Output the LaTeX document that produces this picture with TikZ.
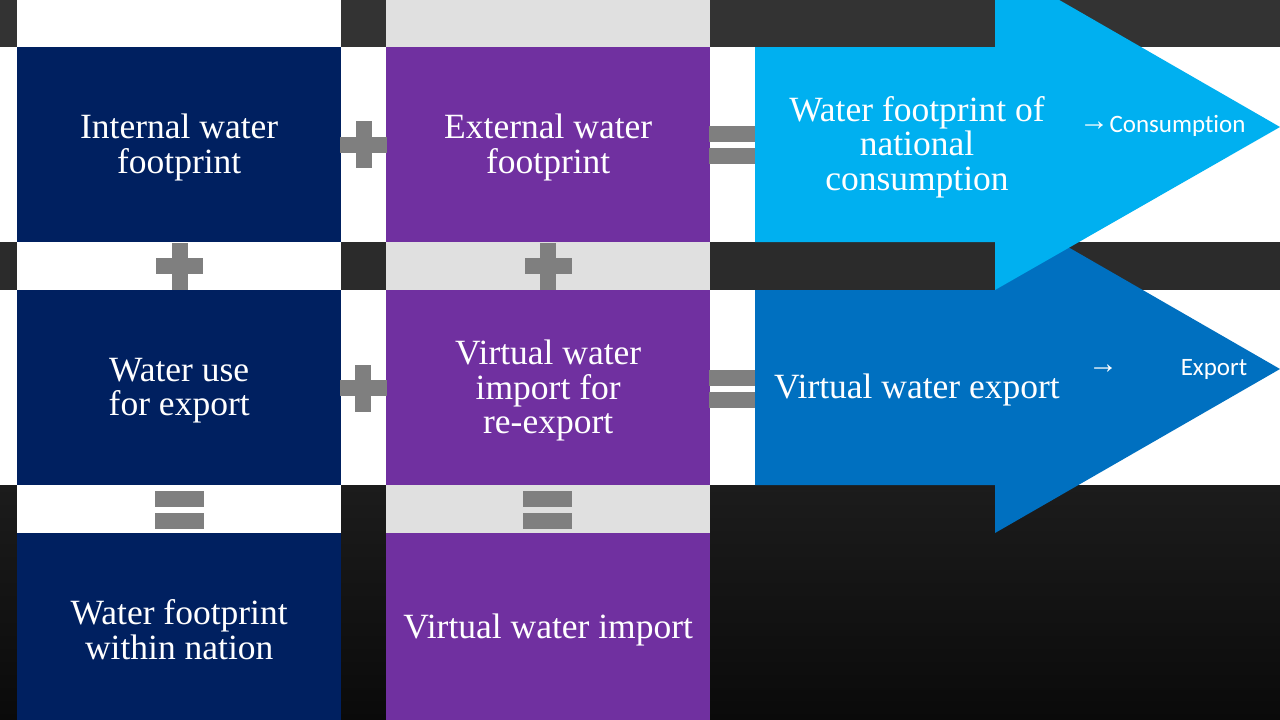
\documentclass[tikz,border=0pt]{standalone}
\usepackage{fontspec}
\setmainfont{Liberation Serif}
\newfontfamily\sansf[Ligatures=NoCommon]{Carlito}
\newfontfamily\arrf{Liberation Sans}
\definecolor{navy}{HTML}{002060}
\definecolor{purp}{HTML}{7030A0}
\definecolor{lblue}{HTML}{00B0F0}
\definecolor{dblue}{HTML}{0070C0}
\definecolor{opgray}{HTML}{7F7F7F}
\definecolor{cellgray}{HTML}{E0E0E0}
\definecolor{stripeA}{HTML}{333333}
\definecolor{stripeB}{HTML}{2B2B2B}
\definecolor{stripeC}{HTML}{1C1C1C}
\definecolor{stripeD}{HTML}{0A0A0A}
\tikzset{
  boxtext/.style={text=white, align=center, inner sep=0pt,
    font=\fontsize{35.5}{34.5}\selectfont},
  intext/.style={boxtext, yshift=-3pt},
  cellbox/.style={anchor=north west, inner sep=0pt, minimum width=324pt, minimum height=195pt},
  navybox/.style={cellbox, fill=navy},
  purpbox/.style={cellbox, fill=purp},
  sanslbl/.style={text=white, inner sep=0pt, font=\sansf\fontsize{25}{25}\selectfont},
  arrlbl/.style={text=white, inner sep=0pt, font=\arrf\fontsize{30}{30}\selectfont},
  plussign/.pic={
    \fill[opgray] (-23.5,-8) rectangle (23.5,8);
    \fill[opgray] (-8,-23.5) rectangle (8,23.5);
  },
  eqsign/.pic={
    \fill[opgray] (-23,-19) rectangle (23,-3);
    \fill[opgray] (-23,3) rectangle (23,19);
  },
  eqsignw/.pic={
    \fill[opgray] (-24.5,-19) rectangle (24.5,-3);
    \fill[opgray] (-24.5,3) rectangle (24.5,19);
  }
}
\begin{document}
\begin{tikzpicture}[x=1pt,y=-1pt]
\useasboundingbox (0,0) rectangle (1280,720);
\clip (0,0) rectangle (1280,720);
% background bands
\fill[stripeA] (0,0) rectangle (1280,47);
\fill[white] (0,47) rectangle (1280,242);
\fill[stripeB] (0,242) rectangle (1280,290);
\fill[white] (0,290) rectangle (1280,485);
\shade[top color=stripeC, bottom color=stripeD] (0,485) rectangle (1280,720);
% spacer cells in the stripes
\fill[white] (17,0) rectangle (341,47);
\fill[white] (17,242) rectangle (341,290);
\fill[white] (17,485) rectangle (341,533);
\fill[cellgray] (386,0) rectangle (710,47);
\fill[cellgray] (386,242) rectangle (710,290);
\fill[cellgray] (386,485) rectangle (710,533);
% arrows
\fill[dblue] (755,290) -- (995,290) -- (995,205) -- (1280,369) -- (995,533)
  -- (995,485) -- (755,485) -- cycle;
\fill[lblue] (755,47) -- (995,47) -- (995,-37) -- (1280,127) -- (995,290)
  -- (995,242) -- (755,242) -- cycle;
% boxes
\node[navybox] (iwf) at (17,47) {};
\node[purpbox] (ewf) at (386,47) {};
\node[navybox] (wue) at (17,290) {};
\node[purpbox] (vwir) at (386,290) {};
\node[navybox, minimum height=187pt] (wfwn) at (17,533) {};
\node[purpbox, minimum height=187pt] (vwi) at (386,533) {};
\node[intext] (iwft) at (iwf.center) {Internal water\\footprint};
\node[intext] (ewft) at (ewf.center) {External water\\footprint};
\node[intext] (wuet) at (wue.center) {Water use\\for export};
\node[intext] (vwirt) at (vwir.center) {Virtual water\\import for\\re-export};
\node[intext] (wfwnt) at (wfwn.center) {Water footprint\\within nation};
\node[intext] (vwit) at (vwi.center) {Virtual water import};
% arrow texts
\node[intext] (wfnc) at (917,144) {Water footprint of\\national\\consumption};
\node[intext] (vwe) at (917,387) {Virtual water export};
\node[arrlbl] (arr1) at (1094,126) {→};
\node[sanslbl] (cons) at (1177.5,126) {Consumption};
\node[arrlbl] (arr2) at (1103,369) {→};
\node[sanslbl] (exp) at (1214,369) {Export};
% operators
\pic at (363.5,144.5) {plussign};
\pic at (363,388) {plussign};
\pic at (179.5,266) {plussign};
\pic at (548,266) {plussign};
\pic at (732,145) {eqsign};
\pic at (732,389) {eqsign};
\pic at (179.5,510) {eqsignw};
\pic at (547,510) {eqsignw};
\end{tikzpicture}
\end{document}
